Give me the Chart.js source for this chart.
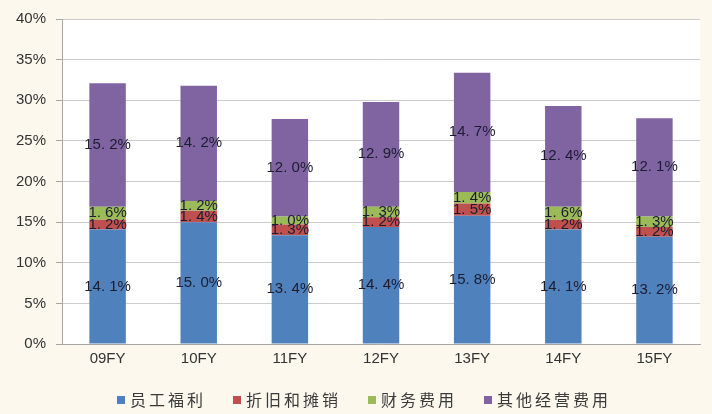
<!DOCTYPE html>
<html>
<head>
<meta charset="utf-8">
<script src="https://cdn.jsdelivr.net/npm/chart.js@4.4.0/dist/chart.umd.min.js"></script>
<style>
  html, body { margin: 0; padding: 0; background: #fcf8ee; }
  #wrap { width: 712px; height: 414px; position: relative; }
</style>
</head>
<body>
<div id="wrap"><canvas id="c" width="712" height="414"></canvas></div>
<script>
// Fiscal years on the category axis
const categories = ['09FY', '10FY', '11FY', '12FY', '13FY', '14FY', '15FY'];
// Cost shares of revenue, in percent
const staffBenefits = [14.1, 15.0, 13.4, 14.4, 15.8, 14.1, 13.2];
const depreciation  = [1.2, 1.4, 1.3, 1.2, 1.5, 1.2, 1.2];
const financeCosts  = [1.6, 1.2, 1.0, 1.3, 1.4, 1.6, 1.3];
const otherOpex     = [15.2, 14.2, 12.0, 12.9, 14.7, 12.4, 12.1];
// Value axis ticks
const yTicks = [0, 5, 10, 15, 20, 25, 30, 35, 40];

const seriesNames = ['员工福利', '折旧和摊销', '财务费用', '其他经营费用'];
const seriesColors = ['#4f81bd', '#c0504d', '#9bbb59', '#8064a2'];
const seriesValues = [staffBenefits, depreciation, financeCosts, otherOpex];

// White plot area on the cream page
const plotBackground = {
  id: 'plotBackground',
  beforeDraw(chart) {
    const { ctx, chartArea: a } = chart;
    ctx.save();
    ctx.fillStyle = '#ffffff';
    ctx.fillRect(a.left, a.top, a.right - a.left, a.bottom - a.top);
    ctx.restore();
  }
};

// Value labels centred in each segment
const segmentLabels = {
  id: 'segmentLabels',
  afterDatasetsDraw(chart) {
    const { ctx } = chart;
    ctx.save();
    ctx.font = '15px "Liberation Sans", Arial, sans-serif';
    ctx.fillStyle = '#1c1c30';
    ctx.textAlign = 'center';
    ctx.textBaseline = 'middle';
    chart.data.datasets.forEach((ds, i) => {
      const meta = chart.getDatasetMeta(i);
      meta.data.forEach((bar, j) => {
        const v = ds.data[j];
        const y = (bar.y + bar.base) / 2;
        ctx.fillText(v.toFixed(1).replace('.', '. ') + '%', bar.x, y);
      });
    });
    ctx.restore();
  }
};

// Legend row along the bottom edge
const bottomLegend = {
  id: 'bottomLegend',
  afterDraw(chart) {
    const { ctx } = chart;
    const box = 8, gapText = 5, gapItem = 27, y = 400;
    ctx.save();
    ctx.font = '16px "Noto Sans CJK SC", sans-serif';
    if ('letterSpacing' in ctx) ctx.letterSpacing = '3px';
    const items = chart.data.datasets.map(ds => ({
      text: ds.label, color: ds.backgroundColor,
      w: ctx.measureText(ds.label).width
    }));
    const total = items.reduce((s, it) => s + box + gapText + it.w, 0) + gapItem * (items.length - 1);
    let x = 364 - total / 2;
    ctx.textBaseline = 'middle';
    ctx.textAlign = 'left';
    items.forEach(it => {
      ctx.fillStyle = it.color;
      ctx.fillRect(x, y - box / 2, box, box);
      x += box + gapText;
      ctx.fillStyle = '#3a3a3a';
      ctx.fillText(it.text, x, y);
      x += it.w + gapItem;
    });
    ctx.restore();
  }
};

new Chart(document.getElementById('c'), {
  type: 'bar',
  data: {
    labels: categories,
    datasets: seriesValues.map((vals, i) => ({
      label: seriesNames[i],
      data: vals,
      backgroundColor: seriesColors[i],
      borderWidth: 0,
      categoryPercentage: 1.0,
      barPercentage: 0.4
    }))
  },
  options: {
    responsive: false,
    animation: false,
    devicePixelRatio: 1,
    layout: { padding: { left: 6, right: 12, top: 16, bottom: 40 } },
    plugins: {
      legend: { display: false },
      tooltip: { enabled: false }
    },
    scales: {
      x: {
        stacked: true,
        grid: { display: false, drawTicks: false },
        border: { color: '#a6a6a6' },
        ticks: {
          color: '#333333',
          padding: 6,
          font: { family: '"Liberation Sans", Arial, sans-serif', size: 15 }
        }
      },
      y: {
        stacked: true,
        min: 0,
        max: 40,
        afterBuildTicks(scale) { scale.ticks = yTicks.map(v => ({ value: v })); },
        grid: { color: '#cccccc', tickLength: 6, tickColor: '#a6a6a6' },
        border: { color: '#a6a6a6' },
        ticks: {
          color: '#333333',
          padding: 10,
          font: { family: '"Liberation Sans", Arial, sans-serif', size: 15 },
          callback: v => v + '%'
        }
      }
    }
  },
  plugins: [plotBackground, segmentLabels, bottomLegend]
});
</script>
</body>
</html>
